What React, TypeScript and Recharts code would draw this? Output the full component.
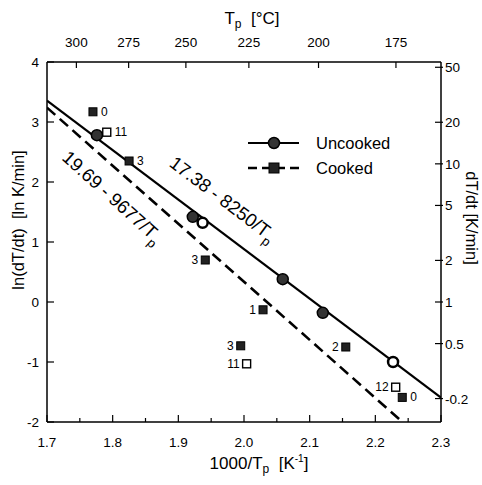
import { ComposedChart, Line, Scatter, XAxis, YAxis, ReferenceDot } from 'recharts';

// bottom axis: 1000/Tp [1/K]
const xMajor = [1.7, 1.8, 1.9, 2.0, 2.1, 2.2, 2.3];
const xMinor = [1.75, 1.85, 1.95, 2.05, 2.15, 2.25];
// left axis: ln(dT/dt)
const yTicks = [-2, -1, 0, 1, 2, 3, 4];
// top axis: Tp in °C
const topTempC = [300, 275, 250, 225, 200, 175];
// right axis: dT/dt in K/min
const rightRates = [50, 20, 10, 5, 2, 1, 0.5, 0.2];
const rightLabels = ['50', '20', '10', '5', '2', '1', '0.5', '-0.2'];

// Uncooked measured peaks (circles)
const uncookedX = [1.776, 1.922, 1.937, 2.059, 2.12, 2.227];
const uncookedY = [2.78, 1.42, 1.32, 0.38, -0.18, -1.0];
const uncookedOpen = [false, false, true, false, false, true];

// Cooked measured peaks (squares) with their labels
const cookedX = [1.77, 1.791, 1.825, 1.941, 2.029, 1.995, 2.004, 2.155, 2.231, 2.241];
const cookedY = [3.17, 2.83, 2.35, 0.7, -0.13, -0.73, -1.03, -0.75, -1.42, -1.59];
const cookedTag = ['0', '11', '3', '3', '1', '3', '11', '2', '12', '0'];
const cookedOpen = [false, true, false, false, false, false, true, false, true, false];
const cookedTagLeft = [false, false, false, true, true, true, true, true, true, false];

// fitted lines, endpoints
const uncookedFitX = [1.7, 2.3];
const uncookedFitY = [3.355, -1.595];
const cookedFitX = [1.7, 2.2414];
const cookedFitY = [3.24, -2.0];

const uncookedPts = uncookedX.map((x, i) => ({ x, y: uncookedY[i], open: uncookedOpen[i] }));
const cookedPts = cookedX.map((x, i) => ({
  x, y: cookedY[i], tag: cookedTag[i], open: cookedOpen[i], left: cookedTagLeft[i],
}));
const uncookedFit = uncookedFitX.map((x, i) => ({ x, y: uncookedFitY[i] }));
const cookedFit = cookedFitX.map((x, i) => ({ x, y: cookedFitY[i] }));

const FONT = '"Liberation Sans", Arial, Helvetica, sans-serif';

const BottomTick = (props: any) => {
  const { x, y, payload } = props;
  const v = payload.value;
  const major = xMajor.some((m) => Math.abs(m - v) < 1e-6);
  return (
    <g>
      <line x1={x} x2={x} y1={y} y2={y - (major ? 7 : 4)} stroke="#000" strokeWidth={1.2} />
      {major && (
        <text x={x} y={y + 25} textAnchor="middle" fontSize={13.5} fill="#000">
          {v.toFixed(1)}
        </text>
      )}
    </g>
  );
};

const LeftTick = (props: any) => {
  const { x, y, payload } = props;
  return (
    <g>
      <line x1={x} x2={x + 7} y1={y} y2={y} stroke="#000" strokeWidth={1.2} />
      <text x={x - 8} y={y + 5} textAnchor="end" fontSize={13.5} fill="#000">
        {payload.value}
      </text>
    </g>
  );
};

const TopTick = (props: any) => {
  const { x, y, index } = props;
  return (
    <g>
      <line x1={x} x2={x} y1={y} y2={y + 6} stroke="#000" strokeWidth={1.2} />
      <text x={x} y={y - 15} textAnchor="middle" fontSize={13.5} fill="#000">
        {topTempC[index]}
      </text>
    </g>
  );
};

const RightTick = (props: any) => {
  const { x, y, index } = props;
  return (
    <g>
      <line x1={x - 6} x2={x + 2} y1={y} y2={y} stroke="#000" strokeWidth={1.2} />
      <text x={x + 4} y={y + 5} textAnchor="start" fontSize={13.5} fill="#000">
        {rightLabels[index]}
      </text>
    </g>
  );
};

const CircleMark = (props: any) => {
  const { cx, cy, payload } = props;
  if (payload.open) {
    return <circle cx={cx} cy={cy} r={5} fill="#fff" stroke="#000" strokeWidth={2.5} />;
  }
  return <circle cx={cx} cy={cy} r={5.5} fill="#333" stroke="#000" strokeWidth={1.5} />;
};

const SquareMark = (props: any) => {
  const { cx, cy, payload } = props;
  const s = 8;
  return (
    <g>
      <rect
        x={cx - s / 2}
        y={cy - s / 2}
        width={s}
        height={s}
        fill={payload.open ? '#fff' : '#222'}
        stroke="#000"
        strokeWidth={payload.open ? 1.4 : 1}
      />
      <text
        x={payload.left ? cx - 7 : cx + 8}
        y={cy + 4}
        textAnchor={payload.left ? 'end' : 'start'}
        fontSize={12}
        fill="#000"
      >
        {payload.tag}
      </text>
    </g>
  );
};

const eqLabel = (head: string, angle: number) => (p: any) => (
  <text
    x={p.cx}
    y={p.cy}
    dy="0.35em"
    textAnchor="middle"
    fontSize={18.5}
    fill="#000"
    transform={`rotate(${angle} ${p.cx} ${p.cy})`}
  >
    {head}
    <tspan fontSize={13} dy={6}>p</tspan>
  </text>
);

export default function App() {
  return (
    <div
      style={{
        position: 'absolute',
        left: 0,
        top: 0,
        width: 482,
        height: 485,
        background: '#fff',
        fontFamily: FONT,
      }}
    >
      <ComposedChart width={482} height={485} margin={{ top: 42, right: 11, bottom: 43, left: 17 }}>
        <XAxis
          xAxisId="b"
          dataKey="x"
          type="number"
          orientation="bottom"
          domain={[1.7, 2.3]}
          ticks={[...xMajor, ...xMinor].sort((a, b) => a - b)}
          interval={0}
          height={20}
          tickSize={0}
          tickMargin={0}
          tickLine={false}
          tick={BottomTick}
          axisLine={{ stroke: '#000', strokeWidth: 1.5 }}
          allowDataOverflow
        />
        <XAxis
          xAxisId="t"
          dataKey="x"
          type="number"
          orientation="top"
          domain={[1.7, 2.3]}
          ticks={topTempC.map((t) => 1000 / (t + 273.15))}
          interval={0}
          height={20}
          tickSize={0}
          tickMargin={0}
          tickLine={false}
          tick={TopTick}
          axisLine={{ stroke: '#000', strokeWidth: 1.5 }}
          allowDataOverflow
        />
        <YAxis
          yAxisId="l"
          type="number"
          orientation="left"
          domain={[-2, 4]}
          ticks={yTicks}
          interval={0}
          width={30}
          tickSize={0}
          tickMargin={0}
          tickLine={false}
          tick={LeftTick}
          axisLine={{ stroke: '#000', strokeWidth: 1.5 }}
          allowDataOverflow
        />
        <YAxis
          yAxisId="r"
          type="number"
          orientation="right"
          domain={[-2, 4]}
          ticks={rightRates.map((r) => Math.log(r))}
          interval={0}
          width={30}
          tickSize={0}
          tickMargin={0}
          tickLine={false}
          tick={RightTick}
          axisLine={{ stroke: '#000', strokeWidth: 1.5 }}
          allowDataOverflow
        />
        {/* invisible series so the top (temperature) axis gets drawn */}
        <Line
          xAxisId="t"
          yAxisId="r"
          data={uncookedFit}
          dataKey="y"
          type="linear"
          stroke="none"
          dot={false}
          activeDot={false}
          isAnimationActive={false}
        />
        <Line
          xAxisId="b"
          yAxisId="l"
          data={uncookedFit}
          dataKey="y"
          type="linear"
          stroke="#000"
          strokeWidth={2.2}
          dot={false}
          isAnimationActive={false}
        />
        <Line
          xAxisId="b"
          yAxisId="l"
          data={cookedFit}
          dataKey="y"
          type="linear"
          stroke="#000"
          strokeWidth={2.6}
          strokeDasharray="11 6"
          dot={false}
          isAnimationActive={false}
        />
        <Scatter
          xAxisId="b"
          yAxisId="l"
          data={cookedPts}
          dataKey="y"
          shape={SquareMark}
          isAnimationActive={false}
        />
        <Scatter
          xAxisId="b"
          yAxisId="l"
          data={uncookedPts}
          dataKey="y"
          shape={CircleMark}
          isAnimationActive={false}
        />
        <ReferenceDot
          xAxisId="b"
          yAxisId="l"
          x={1.968}
          y={1.72}
          r={0}
          shape={eqLabel('17.38 - 8250/T', 37)}
        />
        <ReferenceDot
          xAxisId="b"
          yAxisId="l"
          x={1.8}
          y={1.75}
          r={0}
          shape={eqLabel('19.69 - 9677/T', 42)}
        />
      </ComposedChart>
      <svg
        width={482}
        height={485}
        style={{ position: 'absolute', left: 0, top: 0, pointerEvents: 'none' }}
      >
        <text x={252} y={24} textAnchor="middle" fontSize={17} fill="#000">
          T<tspan fontSize={12} dy={4}>p</tspan>
          <tspan dy={-4}>{'\u00a0\u00a0[°C]'}</tspan>
        </text>
        <text x={259} y={469} textAnchor="middle" fontSize={17} fill="#000">
          1000/T<tspan fontSize={12} dy={4}>p</tspan>
          <tspan dy={-4}>{'\u00a0\u00a0[K'}</tspan>
          <tspan fontSize={10} dy={-7}>-1</tspan>
          <tspan dy={7}>]</tspan>
        </text>
        <text x={24} y={220} textAnchor="middle" fontSize={16.5} fill="#000" transform="rotate(-90 24 220)">
          {'ln(dT/dt)\u00a0\u00a0[ln K/min]'}
        </text>
        <text x={466} y={218} textAnchor="middle" fontSize={16.5} fill="#000" transform="rotate(90 466 218)">
          dT/dt [K/min]
        </text>
        {/* legend */}
        <line x1={248} x2={299} y1={143} y2={143} stroke="#000" strokeWidth={2.2} />
        <circle cx={274} cy={143} r={5.5} fill="#333" stroke="#000" strokeWidth={1.5} />
        <text x={316} y={149} fontSize={16.5} fill="#000">Uncooked</text>
        <line x1={248} x2={299} y1={168} y2={168} stroke="#000" strokeWidth={2.6} strokeDasharray="9 5" />
        <rect x={269} y={163} width={10} height={10} fill="#222" stroke="#000" strokeWidth={1} />
        <text x={316} y={174} fontSize={16.5} fill="#000">Cooked</text>
      </svg>
    </div>
  );
}
